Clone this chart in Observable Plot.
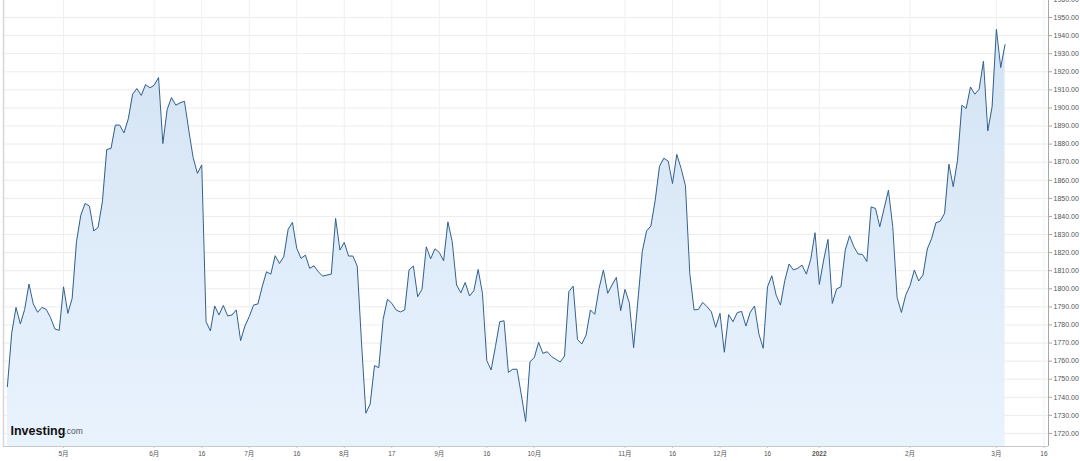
<!DOCTYPE html>
<html>
<head>
<meta charset="utf-8">
<script src="https://cdn.jsdelivr.net/npm/d3@7"></script>
<script src="https://cdn.jsdelivr.net/npm/@observablehq/plot@0.6"></script>
<style>
  html, body { margin: 0; padding: 0; background: #ffffff; }
  #chart svg { display: block; }
</style>
</head>
<body>
<div id="chart"></div>
<script>
// Daily price (trading-day index 0 = mid-April 2021 ... 231 = early March 2022)
const priceValues = [
  1745.9,1775.4,1789.7,1780.5,1788.6,1802.6,1791.6,1787.0,1789.7,1788.6,
  1784.0,1777.8,1777.0,1801.1,1786.4,1794.7,1826.0,1840.7,1847.2,1845.7,
  1832.0,1833.9,1848.1,1877.0,1877.6,1890.5,1890.5,1886.2,1894.0,1907.6,
  1910.7,1906.9,1912.9,1911.1,1912.6,1916.8,1880.3,1899.1,1905.7,1901.5,
  1902.8,1903.7,1887.7,1872.6,1863.8,1868.5,1781.8,1776.7,1790.5,1785.5,
  1790.8,1785.0,1785.5,1788.3,1771.3,1779.4,1784.6,1791.0,1791.6,1801.1,
  1809.4,1808.1,1818.3,1814.0,1817.7,1832.8,1836.7,1822.3,1816.8,1818.6,
  1811.3,1812.7,1809.4,1807.0,1807.6,1808.1,1838.9,1821.4,1825.6,1818.1,
  1818.1,1812.6,1770.0,1731.2,1736.3,1757.5,1756.4,1783.1,1794.2,1792.0,
  1788.3,1787.2,1788.3,1810.4,1812.6,1795.6,1799.7,1823.2,1816.6,1822.1,
  1820.1,1815.5,1837.0,1826.0,1802.1,1797.8,1803.5,1796.0,1798.9,1810.7,
  1797.5,1760.3,1755.1,1768.0,1781.8,1782.3,1753.8,1755.5,1755.5,1741.3,
  1726.6,1759.7,1761.9,1770.4,1764.3,1765.2,1762.5,1761.0,1759.5,1762.8,
  1798.4,1801.5,1772.0,1769.5,1774.4,1788.3,1785.9,1800.2,1810.4,1797.5,
  1802.1,1806.3,1787.9,1799.7,1792.3,1767.4,1793.7,1820.5,1832.0,1834.7,
  1849.0,1867.8,1872.2,1870.6,1858.2,1874.3,1866.5,1856.9,1808.5,1788.3,
  1788.6,1792.5,1790.1,1787.3,1778.7,1786.4,1764.9,1785.7,1781.8,1786.8,
  1787.5,1779.4,1787.0,1790.5,1775.0,1767.1,1801.1,1807.2,1796.5,1791.0,
  1804.5,1813.7,1810.4,1811.3,1813.1,1808.1,1816.2,1831.0,1802.4,1815.9,
  1827.3,1791.9,1799.9,1801.1,1821.4,1829.3,1823.2,1819.2,1819.0,1815.1,
  1845.3,1844.4,1834.3,1844.4,1854.5,1834.3,1795.2,1786.9,1796.5,1801.7,
  1810.4,1804.3,1807.6,1822.0,1827.8,1836.5,1837.4,1841.7,1868.9,1856.4,
  1871.1,1901.5,1899.7,1911.6,1907.6,1910.3,1925.8,1887.3,1900.6,1943.5,
  1922.3,1935.0
];

// x-axis ticks: trading-day index and its label
const tickIndex  = [13, 34, 45, 56, 67, 78, 89, 100, 111, 122, 143, 154, 165, 176, 188, 209, 229, 240];
const tickLabels = ["5月","6月","16","7月","16","8月","17","9月","16","10月","11月","16","12月","16","2022","2月","3月","16"];

// y-axis ticks
const yTicks = [1720,1730,1740,1750,1760,1770,1780,1790,1800,1810,1820,1830,1840,1850,1860,1870,1880,1890,1900,1910,1920,1930,1940,1950,1960];

const xDomain = [-0.9, 241.06];
const yDomain = [1712.8, 1959.4];

const data = priceValues.map((v, i) => ({i, v}));
const labelOf = new Map(tickIndex.map((t, k) => [t, tickLabels[k]]));

const gradientDefs = () => {
  const defs = d3.create("svg:defs");
  const g = defs.append("linearGradient")
    .attr("id", "areaGrad").attr("x1", 0).attr("y1", 0).attr("x2", 0).attr("y2", 1);
  g.append("stop").attr("offset", "0%").attr("stop-color", "#d3e3f3");
  g.append("stop").attr("offset", "100%").attr("stop-color", "#e9f3fe");
  return defs.node();
};

const chart = Plot.plot({
  width: 1080,
  height: 461,
  marginLeft: 3,
  marginRight: 32,
  marginTop: 0,
  marginBottom: 15,
  style: {fontFamily: "'Liberation Sans', Arial, 'Noto Sans CJK SC', sans-serif", background: "#ffffff"},
  x: {domain: xDomain},
  y: {domain: yDomain},
  marks: [
    gradientDefs,
    Plot.ruleY(yTicks, {stroke: "#ececec", strokeWidth: 1}),
    Plot.ruleX(tickIndex, {stroke: "#f0f0f0", strokeWidth: 1}),
    Plot.areaY(data, {x: "i", y1: yDomain[0], y2: "v", fill: "url(#areaGrad)"}),
    Plot.lineY(data, {x: "i", y: "v", stroke: "#33608e", strokeWidth: 1}),
    Plot.ruleX([xDomain[0]], {stroke: "#d8d8d8", strokeWidth: 1.5}),
    Plot.ruleY([yDomain[0]], {stroke: "#c8c8c8", strokeWidth: 1}),
    Plot.ruleX([xDomain[1]], {stroke: "#a8a8a8", strokeWidth: 1}),
    Plot.axisY(yTicks, {anchor: "right", tickFormat: d3.format(".2f"), tickSize: 3, tickPadding: 2,
      fontSize: 7, color: "#555", stroke: "#a8a8a8", label: null}),
    Plot.axisX(tickIndex, {anchor: "bottom", tickFormat: d => labelOf.get(d), tickSize: 2, tickPadding: 3,
      fontSize: 6.5, color: "#555", stroke: "#c8c8c8", label: null}),
    Plot.text(["Investing"], {frameAnchor: "bottom-left", dx: 7, dy: -12, fontSize: 12.5, fontWeight: "bold",
      fill: "#111", textAnchor: "start", lineAnchor: "bottom"}),
    Plot.text([".com"], {frameAnchor: "bottom-left", dx: 61, dy: -13, fontSize: 8.5,
      fill: "#555", textAnchor: "start", lineAnchor: "bottom"})
  ]
});

d3.select(chart).selectAll("text").filter(function() { return this.textContent === "2022"; })
  .attr("font-weight", "bold");

document.getElementById("chart").appendChild(chart);
</script>
</body>
</html>
